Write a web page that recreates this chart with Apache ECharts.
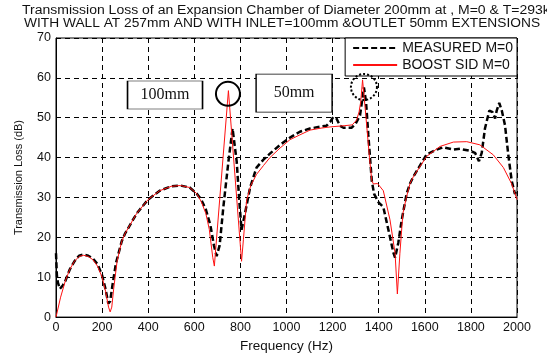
<!DOCTYPE html>
<html><head><meta charset="utf-8">
<script src="https://cdn.jsdelivr.net/npm/echarts@6/dist/echarts.min.js"></script>
<style>html,body{margin:0;padding:0;background:#fff}#c{width:547px;height:358px}</style>
</head><body><div id="c"></div>
<script>
var titleLines = ["Transmission Loss of an Expansion Chamber of Diameter 200mm at , M=0 & T=293k",
  "WITH WALL AT 257mm AND WITH INLET=100mm &OUTLET 50mm EXTENSIONS"];
var seriesNames = ["MEASURED M=0", "BOOST SID M=0"];
var xTicks = [0,200,400,600,800,1000,1200,1400,1600,1800,2000];
var yTicks = [0,10,20,30,40,50,60,70];

var freqMeasured = [0,4,8,17,30,40,60,80,100,120,140,160,180,200,215,227,235,245,260,285,300,350,400,450,500,540,580,610,630,650,670,685,697,710,726,748,766,784,795,805,820,842,870,900,928,972,1015,1058,1102,1150,1174,1190,1203,1217,1232,1247,1283,1300,1319,1336,1345,1355,1370,1380,1399,1420,1442,1464,1471,1485,1500,1521,1536,1550,1608,1651,1680,1724,1753,1796,1818,1835,1847,1861,1880,1894,1905,1912,1923,1934,1948,1962,1977,1991,2000];
var lossMeasured = [16,10.3,8.7,7.1,8,9,12,14,15.4,15.7,15.4,14.7,13.3,10.5,7,3.4,4,8,13.5,19,21,26,29.5,31.7,32.8,33,32.5,31,29.5,27,23,18,15.3,18,27.6,39,47.3,39,29.3,21.9,26,32.5,37.5,39.5,41,43.2,45,46.5,47.3,47.8,48,49,50.2,49.8,48,47.5,47.5,48.5,50.6,57.6,54,45.7,34.2,30.9,28.8,27.6,21.9,16.1,14.9,18.6,24.4,30.9,33.5,35.2,40.8,42,42.6,42,42.2,41.7,41.2,39.1,41.2,47.3,51.8,51.4,49.8,51.8,53.7,51.8,48.1,40.8,34.2,30.9,32];

var freqBoost = [0,20,40,60,80,100,120,140,160,180,200,215,228,235,242,250,265,285,300,350,400,450,500,540,580,610,630,650,665,680,687,748,805,813,827,845,870,900,928,972,1015,1058,1102,1150,1189,1250,1285,1304,1315,1322,1330,1345,1360,1370,1377,1395,1420,1449,1471,1481,1492,1505,1520,1536,1550,1608,1666,1724,1782,1839,1897,1941,1977,2000];
var lossBoost = [0,5,9,12,14,15.2,15.5,15.2,14.4,12.8,10,6.5,2.5,1.3,2.5,7,14,19,21,26,29.5,31.7,32.8,33,32.5,31,29,26,22,15,12.8,56.8,14,19.4,29.3,33,35.8,38,40,42.4,44.5,45.7,46.9,47.4,47.7,48,48.2,49.4,51.5,54,59.5,50,40,34.2,33.4,33.5,31.7,24.4,16,5.8,16,26,30,33.5,35.2,40.3,42.8,43.9,44,43.2,40.7,37.5,33.4,29.5];

var noteLabels = ["100mm", "50mm"];
var noteFreq = [473, 1033];
var noteLoss = [55.7, 56.2];
var circleFreq = [746, 1336];
var circleLoss = [56, 57.7];

function pairs(xs, ys){ return xs.map(function(x,i){ return [x, ys[i]]; }); }

var chart = echarts.init(document.getElementById('c'), null, {renderer:'canvas'});
var font = 'Liberation Sans, Arial, sans-serif';
var serif = 'Liberation Serif, Times New Roman, serif';
chart.setOption({
  animation:false,
  backgroundColor:'#fff',
  graphic:[
    {type:'text', left:22, top:4, scaleX:1.12, silent:true,
      style:{text:titleLines[0], font:'12.5px ' + font, fill:'#111'}},
    {type:'text', left:24, top:17, scaleX:1.1, silent:true,
      style:{text:titleLines[1], font:'12.5px ' + font, fill:'#111'}}
  ],
  grid:{left:56, right:30, top:38, bottom:36, show:true, borderColor:'#000', borderWidth:1},
  legend:{
    right:30, top:38, orient:'vertical', padding:[3,4,4,7], itemGap:3,
    backgroundColor:'#fff', borderColor:'#000', borderWidth:1, borderRadius:0,
    itemWidth:44, itemHeight:13,
    itemStyle:{opacity:0},
    textStyle:{fontFamily:font, fontSize:14, color:'#111'},
    data: seriesNames
  },
  xAxis:{
    type:'value', min:0, max:2000, interval:200,
    name:'Frequency (Hz)', nameLocation:'middle', nameGap:21,
    nameTextStyle:{fontFamily:font, fontSize:13.5, color:'#111'},
    axisLine:{show:true, lineStyle:{color:'#000'}}, axisTick:{show:false},
    axisLabel:{fontFamily:font, fontSize:12.5, color:'#111', margin:4,
      formatter:function(v){ return xTicks.indexOf(v)>=0 ? String(v) : ''; }},
    splitLine:{show:true, lineStyle:{color:'#000', type:[5,4], width:1}}
  },
  yAxis:{
    type:'value', min:0, max:70, interval:10,
    name:'Transmission Loss (dB)', nameLocation:'middle', nameGap:32,
    nameTextStyle:{fontFamily:font, fontSize:11, color:'#111'},
    axisLine:{show:true, lineStyle:{color:'#000'}}, axisTick:{show:false},
    axisLabel:{fontFamily:font, fontSize:12.5, color:'#111', margin:5,
      formatter:function(v){ return yTicks.indexOf(v)>=0 ? String(v) : ''; }},
    splitLine:{show:true, lineStyle:{color:'#000', type:[5,4], width:1}}
  },
  series:[
    {
      name: seriesNames[0], type:'line', data: pairs(freqMeasured, lossMeasured),
      showSymbol:false, symbol:'none', z:3,
      lineStyle:{color:'#000', width:2.5, type:[6,3]}, itemStyle:{color:'#000'},
      markPoint:{
        silent:true, symbol:'circle', symbolSize:26,
        itemStyle:{color:'rgba(0,0,0,0)', borderColor:'#000', borderWidth:2, borderType:[2,2]},
        label:{show:false},
        data:[{coord:[circleFreq[1], circleLoss[1]]}]
      }
    },
    {
      name: seriesNames[1], type:'line', data: pairs(freqBoost, lossBoost),
      showSymbol:false, symbol:'none', z:4,
      lineStyle:{color:'#ff1010', width:1}, itemStyle:{color:'#ff1010'},
      markPoint:{
        silent:true,
        data:[
          {coord:[circleFreq[0], circleLoss[0]], symbol:'circle', symbolSize:24,
            itemStyle:{color:'rgba(0,0,0,0)', borderColor:'#000', borderWidth:2}, label:{show:false}},
          {coord:[noteFreq[0], noteLoss[0]], symbol:'rect', symbolSize:[75,28],
            itemStyle:{color:'#fff', borderColor:'#000', borderWidth:1},
            label:{show:true, position:'inside', formatter:noteLabels[0], color:'#111',
              fontFamily:serif, fontSize:16}},
          {coord:[noteFreq[1], noteLoss[1]], symbol:'rect', symbolSize:[76,38],
            itemStyle:{color:'#fff', borderColor:'#000', borderWidth:1},
            label:{show:true, position:'inside', formatter:noteLabels[1], color:'#111',
              fontFamily:serif, fontSize:16}}
        ]
      }
    }
  ]
});
</script></body></html>
